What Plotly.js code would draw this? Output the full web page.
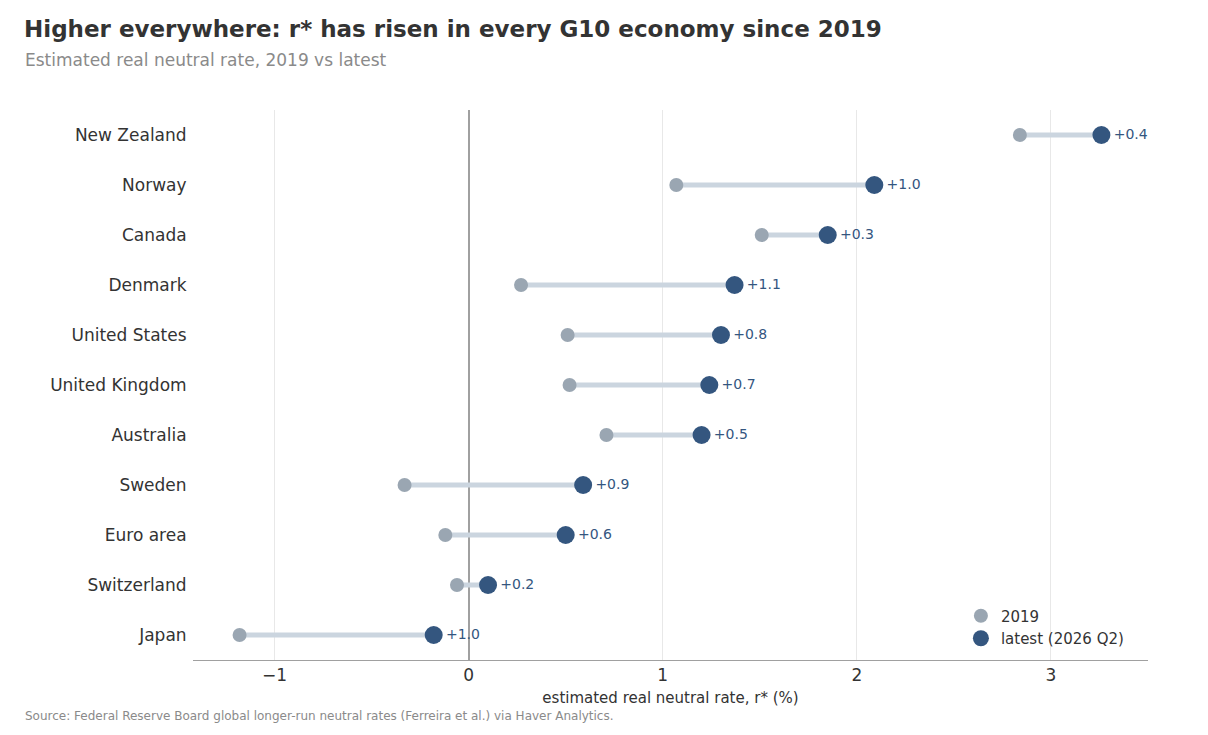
<!DOCTYPE html>
<html>
<head>
<meta charset="utf-8">
<script src="https://cdn.plot.ly/plotly-3.0.1.min.js"></script>
<style>body{margin:0;background:#fff}#chart{width:1208px;height:735px}</style>
</head>
<body>
<div id="chart"></div>
<script>
// bottom to top
var countries = ["Japan", "Switzerland", "Euro area", "Sweden", "Australia", "United Kingdom",
  "United States", "Denmark", "Canada", "Norway", "New Zealand"];
var r2019 = [-1.18, -0.06, -0.12, -0.33, 0.71, 0.52, 0.51, 0.27, 1.51, 1.07, 2.84];
var rLatest = [-0.18, 0.10, 0.50, 0.59, 1.20, 1.24, 1.30, 1.37, 1.85, 2.09, 3.26];

var lx = [], ly = [];
countries.forEach(function (c, i) {
  lx.push(r2019[i], rLatest[i], null);
  ly.push(c, c, null);
});
var labels = rLatest.map(function (v, i) {
  var d = v - r2019[i];
  return (d >= 0 ? "+" : "") + d.toFixed(1);
});

var data = [
  { x: lx, y: ly, mode: "lines", line: { color: "#cbd5df", width: 5 },
    showlegend: false, hoverinfo: "skip" },
  { x: r2019, y: countries, mode: "markers", name: "2019",
    marker: { color: "#9aa6b2", size: 14 } },
  { x: rLatest, y: countries, mode: "markers+text", name: "latest (2026 Q2)",
    marker: { color: "#34567f", size: 18 },
    text: labels, textposition: "middle right",
    textfont: { color: "#34567f", size: 14 } }
];

var layout = {
  width: 1208, height: 735,
  margin: { t: 110, b: 75, l: 193, r: 60 },
  font: { family: "DejaVu Sans, sans-serif", color: "#333" },
  plot_bgcolor: "#fff", paper_bgcolor: "#fff",
  title: { text: "<b>Higher everywhere: r* has risen in every G10 economy since 2019</b>",
    x: 24 / 1208, xanchor: "left", xref: "container", yref: "container",
    y: 1 - 29 / 735, yanchor: "middle", font: { size: 23, color: "#333" } },
  xaxis: { range: [-1.42, 3.5], tickvals: [-1, 0, 1, 2, 3],
    gridcolor: "#e8e8e8", zeroline: true, zerolinecolor: "#a0a0a0", zerolinewidth: 1.5,
    showline: true, linecolor: "#a0a0a0", ticks: "", tickfont: { size: 17 },
    title: { text: "estimated real neutral rate, r* (%)", font: { size: 15 }, standoff: 8 } },
  yaxis: { type: "category", categoryorder: "array", categoryarray: countries,
    showgrid: false, ticks: "", ticksuffix: " ", tickfont: { size: 17 },
    range: [-0.5, 10.5] },
  legend: { x: 0.98, xanchor: "right", y: 0.01, yanchor: "bottom",
    bgcolor: "rgba(255,255,255,0)", font: { size: 15 } },
  annotations: [
    { text: "Estimated real neutral rate, 2019 vs latest", xref: "paper", yref: "paper",
      x: -0.178, y: 1.091, xanchor: "left", yanchor: "middle", showarrow: false,
      font: { size: 17, color: "#8a8a8a" } },
    { text: "Source: Federal Reserve Board global longer-run neutral rates (Ferreira et al.) via Haver Analytics.",
      xref: "paper", yref: "paper", x: -0.178, y: -0.102, xanchor: "left", yanchor: "middle",
      showarrow: false, font: { size: 12, color: "#8a8a8a" } }
  ]
};

Plotly.newPlot("chart", data, layout, { displayModeBar: false });
</script>
</body>
</html>
